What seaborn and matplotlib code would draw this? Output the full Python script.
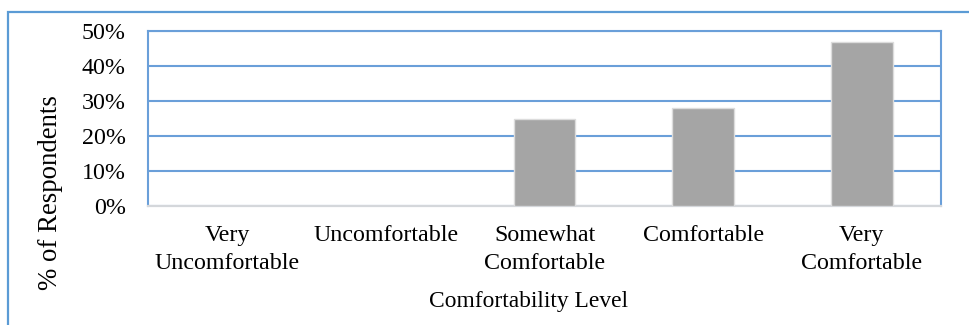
import matplotlib
matplotlib.use("Agg")
import matplotlib.pyplot as plt
import seaborn as sns
import pandas as pd
from matplotlib.patches import Rectangle
from matplotlib.ticker import FuncFormatter, MultipleLocator

categories = ["Very\nUncomfortable", "Uncomfortable", "Somewhat\nComfortable",
              "Comfortable", "Very\nComfortable"]
values = [0, 0, 25, 28, 47]
y_ticks = [0, 10, 20, 30, 40, 50]
x_title = "Comfortability Level"
y_title = "% of Respondents"

sns.set_theme(style="white")
plt.rcParams['font.family'] = ['Liberation Serif', 'DejaVu Serif']

W, H = 970, 325
fig = plt.figure(figsize=(W / 100, H / 100), dpi=100)
fig.patch.set_facecolor("white")

# outer chart border (only left and top visible in crop)
fig.patches.append(Rectangle((8 / W, -0.1), 1.2, 1.1 - 12 / H + 0.0,
                             transform=fig.transFigure, fill=False,
                             edgecolor="#5B9BD5", linewidth=1.6, zorder=0))

L, T, R, B = 148, 31, 941, 206
ax = fig.add_axes([L / W, 1 - B / H, (R - L) / W, (B - T) / H])

df = pd.DataFrame({"cat": categories, "val": values})
sns.barplot(data=df, x="cat", y="val", color="#A5A5A5", width=0.39,
            edgecolor="#DCDCDC", linewidth=1.0, saturation=1, ax=ax, zorder=3)

ax.set_ylim(0, 50)
ax.set_xlim(-0.5, len(categories) - 0.5)
ax.yaxis.set_major_locator(MultipleLocator(10))
ax.yaxis.set_major_formatter(FuncFormatter(lambda v, p: f"{int(round(v))}%"))
ax.set_yticks(y_ticks)

ax.grid(axis="y", color="#6A9FD9", linewidth=1.5, zorder=0)
ax.set_axisbelow(True)
for side in ["left", "right", "top"]:
    ax.spines[side].set_visible(True)
    ax.spines[side].set_color("#6A9FD9")
    ax.spines[side].set_linewidth(1.5)
ax.spines["bottom"].set_color("#D4D7DB")
ax.spines["bottom"].set_linewidth(1.6)

ax.tick_params(axis="both", length=0, labelsize=17.3, colors="black")
ax.tick_params(axis="y", pad=16.0)
ax.tick_params(axis="x", pad=14)
for lbl in ax.get_xticklabels():
    lbl.set_linespacing(1.4)

ax.set_xlabel(x_title, fontsize=16.9, color="black")
ax.set_ylabel(y_title, fontsize=19.3, color="black")
ax.xaxis.set_label_coords((529 - L) / (R - L), (B - 301) / (B - T))
ax.xaxis.label.set_va("center")
ax.yaxis.set_label_coords((50 - L) / (R - L), (B - 193) / (B - T))
ax.yaxis.label.set_va("center")

fig.savefig("out.png", dpi=100, facecolor="white")
